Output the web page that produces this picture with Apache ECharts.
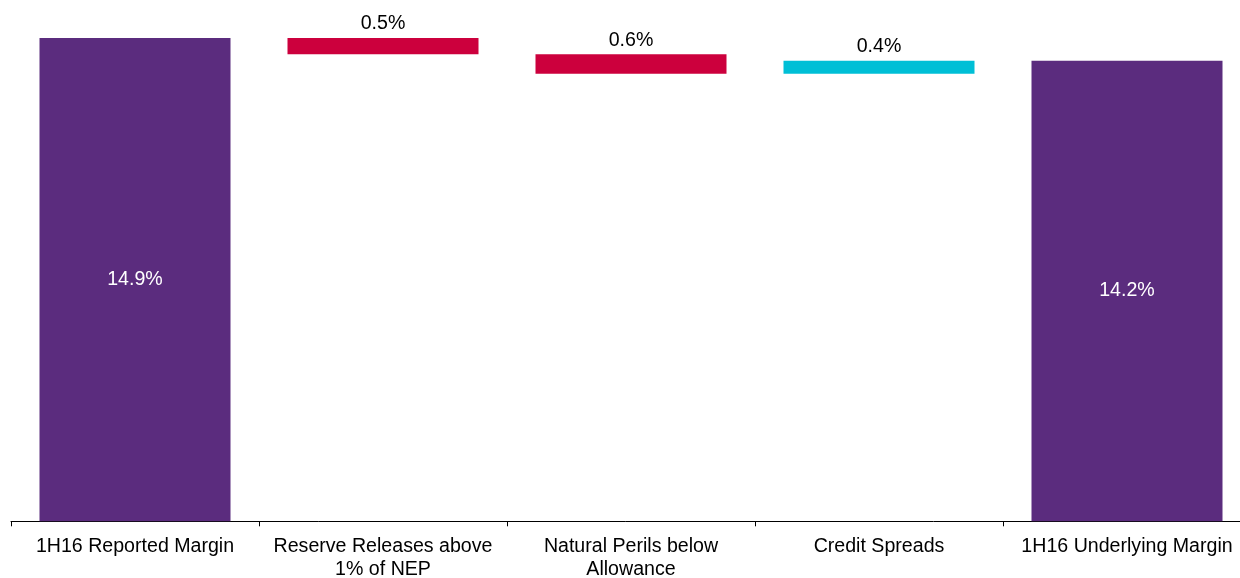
<!DOCTYPE html>
<html>
<head>
<meta charset="utf-8">
<script src="https://cdn.jsdelivr.net/npm/echarts@6/dist/echarts.min.js"></script>
<style>
html,body{margin:0;padding:0;background:#fff;}
#chart{width:1240px;height:578px;}
</style>
</head>
<body>
<div id="chart"></div>
<script>
// Data
const categories = ['1H16 Reported Margin', 'Reserve Releases above\n1% of NEP', 'Natural Perils below\nAllowance', 'Credit Spreads', '1H16 Underlying Margin'];
const values = [14.9, -0.5, -0.6, 0.4, 14.2];
const kinds = ['total', 'delta', 'delta', 'delta', 'total'];

const PURPLE = '#5b2c7e';
const RED = '#cc003d';
const CYAN = '#00bfd6';

// Build waterfall base/height from the values
const base = [];
const height = [];
let running = 0;
values.forEach((v, i) => {
  if (kinds[i] === 'total') {
    base.push(0);
    height.push({ value: v, itemStyle: { color: PURPLE },
      label: { show: true, position: 'inside', color: '#fff' } });
    running = v;
  } else if (v < 0) {
    running = running + v;
    base.push(+running.toFixed(2));
    height.push({ value: -v, itemStyle: { color: RED },
      label: { show: true, position: 'top', color: '#000', distance: 4 } });
  } else {
    base.push(+running.toFixed(2));
    running = running + v;
    height.push({ value: v, itemStyle: { color: CYAN },
      label: { show: true, position: 'top', color: '#000', distance: 4 } });
  }
});

const chart = echarts.init(document.getElementById('chart'), null, { renderer: 'canvas' });
chart.setOption({
  animation: false,
  textStyle: { fontFamily: 'Liberation Sans, Arial, sans-serif' },
  grid: { left: 11, width: 1240, top: 2.3, bottom: 56.7, containLabel: false, outerBoundsMode: 'none' },
  xAxis: {
    type: 'category',
    data: categories,
    axisLine: { lineStyle: { color: '#000', width: 1 } },
    axisTick: { show: true, length: 5, lineStyle: { color: '#000' } },
    axisLabel: {
      color: '#000', fontSize: 19.6, lineHeight: 23, margin: 14,
      fontFamily: 'Liberation Sans, Arial, sans-serif', interval: 0
    }
  },
  yAxis: { type: 'value', min: 0, max: 16, show: false, splitLine: { show: false } },
  series: [
    {
      type: 'bar', stack: 'w', data: base, barWidth: 191,
      itemStyle: { color: 'transparent' }, silent: true
    },
    {
      type: 'bar', stack: 'w', data: height, barWidth: 191,
      label: {
        fontSize: 19.6, fontFamily: 'Liberation Sans, Arial, sans-serif',
        formatter: p => Math.abs(values[p.dataIndex]).toFixed(1) + '%'
      }
    }
  ]
});
</script>
</body>
</html>
